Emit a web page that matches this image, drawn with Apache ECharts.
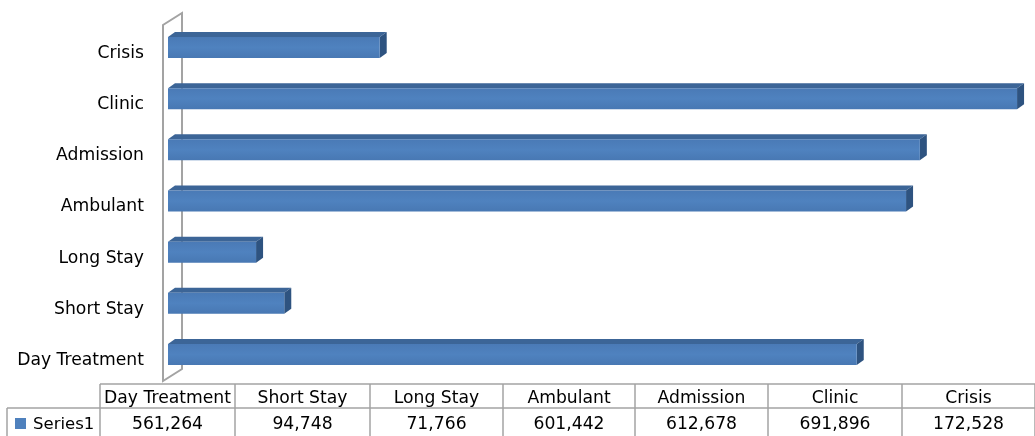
<!DOCTYPE html>
<html>
<head>
<meta charset="utf-8">
<script src="https://cdn.jsdelivr.net/npm/echarts@6/dist/echarts.min.js"></script>
<style>html,body{margin:0;padding:0;background:#fff}#c{width:1035px;height:436px}</style>
</head>
<body>
<div id="c"></div>
<script>
// ---- data ----
const categories = ['Day Treatment', 'Short Stay', 'Long Stay', 'Ambulant', 'Admission', 'Clinic', 'Crisis'];
const series1 = [561264, 94748, 71766, 601442, 612678, 691896, 172528];
const seriesName = 'Series1';

// ---- layout ----
const FONT = 'DejaVu Sans';
const DX = 7, DY = 5, BAR_H = 21;
const colEdges = [100, 235, 370, 503, 635, 768, 902, 1035];
const tableTop = 384, rowMid = 408, tableBottom = 437, legendLeft = 7;
const gridColor = '#A3A3A3';

const chart = echarts.init(document.getElementById('c'), null, {renderer: 'canvas'});

const graphics = [];
// wall outline
graphics.push({
  type: 'polygon', z: 0, silent: true,
  shape: {points: [[163, 381], [163, 25], [182, 13], [182, 369]]},
  style: {fill: 'none', stroke: gridColor, lineWidth: 2}
});
// table lines
graphics.push({type: 'line', z: 0, shape: {x1: colEdges[0], y1: tableTop, x2: 1035, y2: tableTop}, style: {stroke: gridColor, lineWidth: 1.5}});
graphics.push({type: 'line', z: 0, shape: {x1: legendLeft, y1: rowMid, x2: 1035, y2: rowMid}, style: {stroke: gridColor, lineWidth: 1.5}});
graphics.push({type: 'line', z: 0, shape: {x1: legendLeft, y1: rowMid, x2: legendLeft, y2: tableBottom}, style: {stroke: gridColor, lineWidth: 1.5}});
colEdges.forEach(function (x) {
  graphics.push({type: 'line', z: 0, shape: {x1: x, y1: tableTop, x2: x, y2: tableBottom}, style: {stroke: gridColor, lineWidth: 1.5}});
});
categories.forEach(function (c, i) {
  const cx = (colEdges[i] + colEdges[i + 1]) / 2;
  graphics.push({type: 'text', z: 1, x: cx, y: (tableTop + rowMid) / 2 + 2.5,
    style: {text: c, font: '17.2px "' + FONT + '"', fill: '#000', textAlign: 'center', textVerticalAlign: 'middle'}});
  graphics.push({type: 'text', z: 1, x: cx, y: (rowMid + tableBottom) / 2 + 2.5,
    style: {text: series1[i].toLocaleString('en-US'), font: '17.2px "' + FONT + '"', fill: '#000', textAlign: 'center', textVerticalAlign: 'middle'}});
});
// legend key in table
graphics.push({type: 'rect', z: 1, shape: {x: 15, y: 418, width: 11, height: 11}, style: {fill: '#4F81BD'}});
graphics.push({type: 'text', z: 1, x: 33, y: (rowMid + tableBottom) / 2 + 2.5,
  style: {text: seriesName, font: '16.5px "' + FONT + '"', fill: '#000', textAlign: 'left', textVerticalAlign: 'middle'}});

function renderBar(params, api) {
  const v = api.value(0), ci = api.value(1);
  const s = api.coord([0, ci]);
  const e = api.coord([v, ci]);
  const x0 = s[0], x1 = e[0];
  const y0 = s[1] - BAR_H / 2, y1 = s[1] + BAR_H / 2;
  return {
    type: 'group',
    children: [
      {type: 'polygon', shape: {points: [[x0, y0], [x0 + DX, y0 - DY], [x1 + DX, y0 - DY], [x1, y0]]},
        style: {fill: '#3C6597'}},
      {type: 'polygon', shape: {points: [[x1, y0], [x1 + DX, y0 - DY], [x1 + DX, y1 - DY], [x1, y1]]},
        style: {fill: '#2E5380'}},
      {type: 'rect', shape: {x: x0, y: y0, width: x1 - x0, height: BAR_H},
        style: {fill: new echarts.graphic.LinearGradient(0, 0, 0, 1, [
          {offset: 0, color: '#4A7AB6'}, {offset: 0.5, color: '#4F82BF'}, {offset: 1, color: '#4878B3'}])}}
    ]
  };
}

chart.setOption({
  animation: false,
  grid: {left: 168, right: 8, top: 22, bottom: 56},
  xAxis: {type: 'value', min: 0, max: 700000, show: false, splitLine: {show: false}},
  yAxis: {
    type: 'category', data: categories,
    axisLine: {show: false}, axisTick: {show: false}, splitLine: {show: false},
    axisLabel: {margin: 24, color: '#000', fontFamily: FONT, fontSize: 17.2, verticalAlign: 'top', lineHeight: 12}
  },
  graphic: graphics,
  series: [{
    type: 'custom', name: seriesName, z: 2,
    renderItem: renderBar,
    encode: {x: 0, y: 1},
    data: series1.map(function (v, i) { return [v, i]; })
  }]
});
</script>
</body>
</html>
